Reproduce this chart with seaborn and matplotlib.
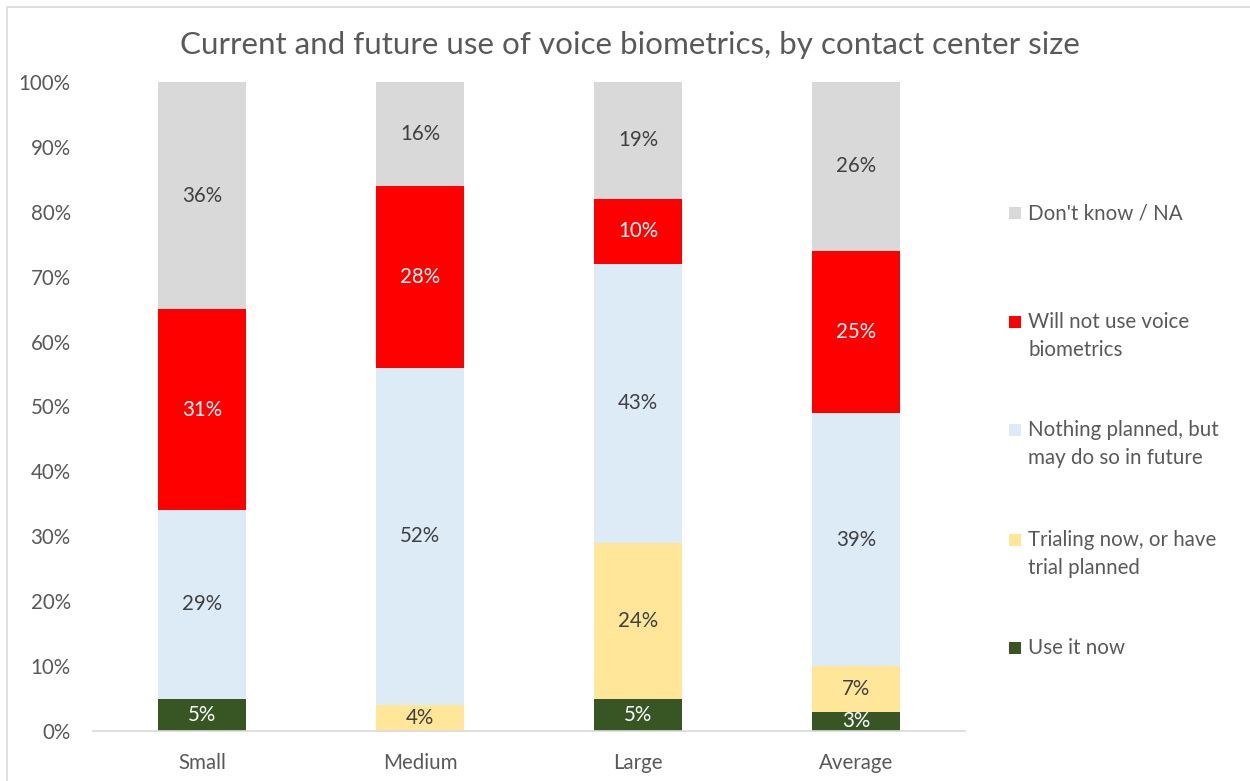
import matplotlib
matplotlib.use("Agg")
import matplotlib.pyplot as plt
from matplotlib.patches import Rectangle
import numpy as np
import seaborn as sns

# Survey results (% of respondents), by contact center size
categories = ["Small", "Medium", "Large", "Average"]
series_names = [
    "Use it now",
    "Trialing now, or have\ntrial planned",
    "Nothing planned, but\nmay do so in future",
    "Will not use voice\nbiometrics",
    "Don't know / NA",
]
use_now = [5, 0, 5, 3]
trialing = [0, 4, 24, 7]
nothing_planned = [29, 52, 43, 39]
will_not = [31, 28, 10, 25]
dont_know = [36, 16, 19, 26]

series_values = [use_now, trialing, nothing_planned, will_not, dont_know]
colors = ["#375623", "#FFE699", "#DDEBF7", "#FF0000", "#D9D9D9"]
label_colors = ["white", "#404040", "#404040", "white", "#404040"]
tick_labels = [f"{v}%" for v in range(0, 101, 10)]

sns.set_theme(style="white")
plt.rcParams["font.family"] = ["Lato", "DejaVu Sans"]
text_color = "#595959"
fs = 14.8

W, H = 1250, 781
fig = plt.figure(figsize=(W / 100, H / 100), dpi=100)
ax = fig.add_axes([93 / W, 1 - 731 / H, (965 - 93) / W, 649 / H])

# Stacked bars: draw cumulative totals from the top segment down
values = np.array(series_values, dtype=float)
cum = np.cumsum(values, axis=0)
for i in range(len(series_names) - 1, -1, -1):
    sns.barplot(x=categories, y=cum[i], color=colors[i], width=0.4,
                saturation=1, ax=ax, linewidth=0)

# Segment labels, centred on the visible part of each segment
ymax = 100
for i in range(len(series_names)):
    bottoms = cum[i] - values[i]
    for j, v in enumerate(values[i]):
        if v <= 0:
            continue
        top = min(cum[i][j], ymax)
        ax.text(j, (bottoms[j] + top) / 2, f"{v:.0f}%", ha="center",
                va="center", fontsize=fs, color=label_colors[i])

ax.set_xlim(-0.5, len(categories) - 0.5)
ax.set_ylim(0, ymax)
ax.set_yticks(range(0, 101, 10))
ax.set_yticklabels(tick_labels)
ax.tick_params(axis="y", length=0, pad=16, labelsize=fs, labelcolor=text_color)
ax.tick_params(axis="x", length=0, pad=16, labelsize=fs, labelcolor=text_color)
ax.set_xlabel("")
ax.set_ylabel("")
for side in ["top", "right", "left"]:
    ax.spines[side].set_visible(False)
ax.spines["bottom"].set_color("#D9D9D9")
ax.spines["bottom"].set_linewidth(1.2)
ax.grid(False)

fig.text(630 / W, 1 - 45 / H,
         "Current and future use of voice biometrics, by contact center size",
         ha="center", va="center", fontsize=22.6, color=text_color)

# Legend, listed top to bottom in reverse stacking order
legend_y = [213, 322, 430, 540, 648]
for k, i in enumerate(range(len(series_names) - 1, -1, -1)):
    yc = legend_y[k]
    fig.add_artist(Rectangle((1009 / W, 1 - (yc + 6) / H), 12 / W, 12 / H,
                             transform=fig.transFigure, facecolor=colors[i],
                             edgecolor="none"))
    for n, line in enumerate(series_names[i].split("\n")):
        fig.text(1028 / W, 1 - (yc + 27.5 * n) / H, line, ha="left",
                 va="center", fontsize=fs, color=text_color)

# Chart frame
fig.add_artist(Rectangle((7 / W, -0.1), 1.2, 1 - 7 / H + 0.1,
                         transform=fig.transFigure, facecolor="none",
                         edgecolor="#D9D9D9", linewidth=1.2))

fig.savefig("out.png", dpi=100)
